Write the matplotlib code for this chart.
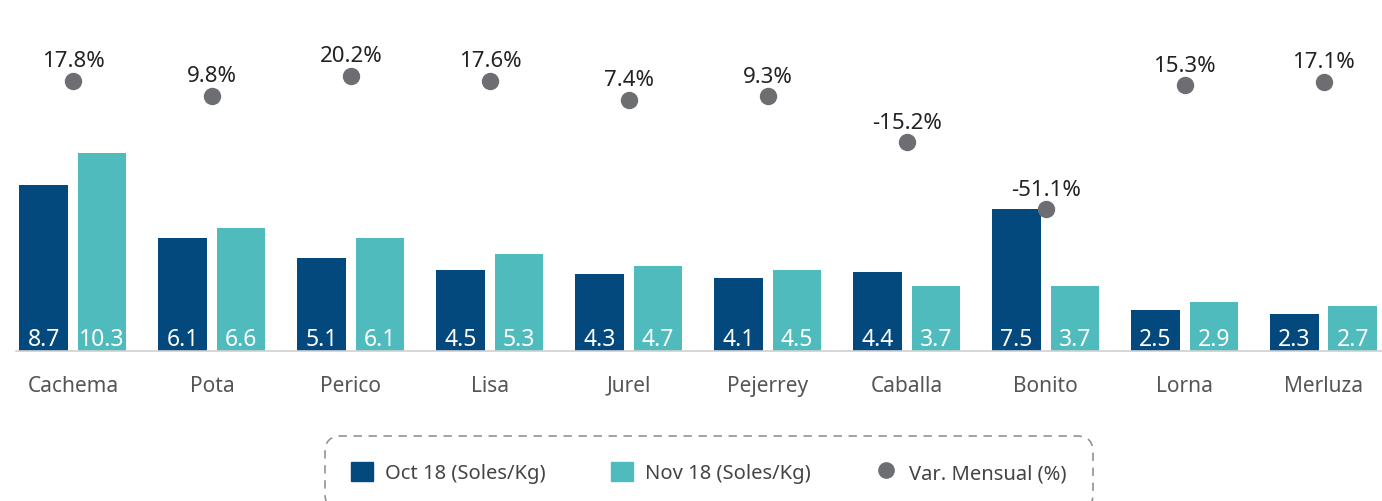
import numpy as np
import matplotlib
matplotlib.use('Agg')
import matplotlib.pyplot as plt
from matplotlib.patches import Patch
from matplotlib.lines import Line2D

plt.rcParams['font.family'] = ['Noto Sans', 'DejaVu Sans']

# datos
especies = ['Cachema', 'Pota', 'Perico', 'Lisa', 'Jurel', 'Pejerrey', 'Caballa', 'Bonito', 'Lorna', 'Merluza']
oct18 = [8.7, 6.1, 5.1, 4.5, 4.3, 4.1, 4.4, 7.5, 2.5, 2.3]
nov18 = [10.3, 6.6, 6.1, 5.3, 4.7, 4.5, 3.7, 3.7, 2.9, 2.7]
var_mensual = [17.8, 9.8, 20.2, 17.6, 7.4, 9.3, -15.2, -51.1, 15.3, 17.1]

c_oct = '#03497d'
c_nov = '#4fbbbd'
c_dot = '#6d6e71'

fig = plt.figure(figsize=(13.82, 5.02), dpi=100)
ax = fig.add_axes([16 / 1382, 150 / 502, 1 - 16 / 1382, 352 / 502])

x = np.arange(len(especies))
w = 0.35
off = 0.21

ax.bar(x - off, oct18, w, color=c_oct)
ax.bar(x + off, nov18, w, color=c_nov)

ax.set_xlim(-0.41, 9.42)
ax.set_ylim(0.46, 17.97)

# etiquetas dentro de las barras
for xi, v in zip(x, oct18):
    ax.text(xi - off, 0.47, f'{v:.1f}', ha='center', va='bottom', color='white', fontsize=16.5)
for xi, v in zip(x, nov18):
    ax.text(xi + off, 0.47, f'{v:.1f}', ha='center', va='bottom', color='white', fontsize=16.5)

for s in ['top', 'right', 'left']:
    ax.spines[s].set_visible(False)
ax.spines['bottom'].set_color('#d0d0d0')
ax.spines['bottom'].set_linewidth(1.2)
ax.set_yticks([])
ax.set_xticks(x)
ax.set_xticklabels(especies, fontsize=15, color='#555555')
ax.tick_params(axis='x', length=0, pad=17)

# variación mensual
ax2 = ax.twinx()
ax2.set_ylim(-127, 61.5)
ax2.plot(x, var_mensual, 'o', color=c_dot, markersize=11.5, linestyle='none')
for xi, v in zip(x, var_mensual):
    ax2.annotate(f'{v:.1f}%', (xi, v), xytext=(0, 7), textcoords='offset points',
                 ha='center', va='bottom', fontsize=16, color='#222222')
ax2.axis('off')

handles = [
    Patch(color=c_oct),
    Patch(color=c_nov),
    Line2D([], [], marker='o', color=c_dot, linestyle='none', markersize=11),
]
labels = ['Oct 18 (Soles/Kg)', 'Nov 18 (Soles/Kg)', 'Var. Mensual (%)']
leg = fig.legend(handles, labels, loc='upper center', bbox_to_anchor=(0.513, 0.15),
                 ncol=3, fontsize=14.5, frameon=True, handlelength=1.1, handleheight=1.1,
                 handletextpad=0.6, columnspacing=3.2, borderpad=1.3, labelcolor='#444444')
frame = leg.get_frame()
frame.set_edgecolor('#777777')
frame.set_linestyle((0, (5, 4)))
frame.set_linewidth(1.2)
frame.set_boxstyle('round', pad=0.0, rounding_size=0.8)

fig.savefig('out.png', dpi=100)
